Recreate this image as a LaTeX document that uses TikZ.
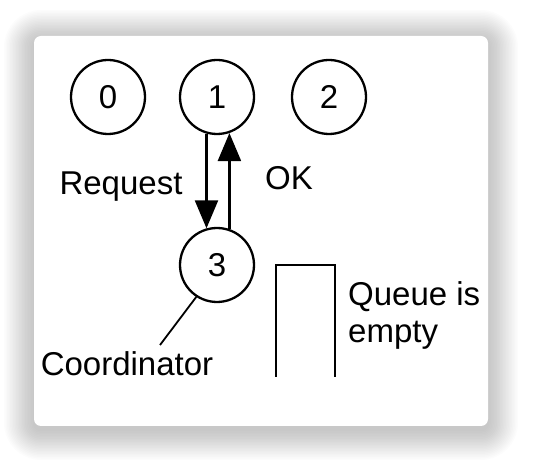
\documentclass[tikz,border=0pt]{standalone}
\usepackage{fontspec}
\setmainfont{Liberation Sans}
\usetikzlibrary{arrows.meta}
\tikzset{
  proc/.style={draw, circle, minimum size=74pt, inner sep=0pt, line width=2.3pt},
  msg/.style={-{Triangle[length=28pt,width=23pt]}, line width=2.3pt},
  lbl/.style={anchor=base, inner sep=0pt},
}
\begin{document}
\begin{tikzpicture}[x=1pt, y=-1pt, font=\fontsize{33}{37}\selectfont]
  \useasboundingbox (0,0) rectangle (552,462);

  % soft shadow, then the card
  \foreach \i in {1,...,20}
    \fill [black, opacity=0.011, rounded corners={7pt+\i*1.5pt}]
      (34-\i*1.5,36-\i*1.5+4) rectangle (488+\i*1.5,426+\i*1.5+4);
  \fill [white, rounded corners=7pt] (34,36) rectangle (488,426);

  % processes
  \node [proc] (p0) at (108,97) {0};
  \node [proc] (p1) at (217,97) {1};
  \node [proc] (p2) at (329,97) {2};
  \node [proc] (p3) at (217,265) {3};

  % messages
  \draw [msg] (p1.254) -- (p3.106);
  \draw [msg] (p3.71) -- (p1.289);
  \node [lbl] (req) at (121,195) {Request};
  \node [lbl] (ok) at (289,190) {OK};

  % coordinator label
  \node [lbl] (coord) at (127,376) {Coordinator};
  \coordinate (tail) at (160,345);
  \draw [line width=1.8pt] (p3.237) -- (tail);

  % queue
  \draw [line width=2.3pt] (276,377) -- (276,265) -- (335,265) -- (335,377);
  \node [lbl, anchor=base west] (q1) at (348,306) {Queue is};
  \node [lbl, anchor=base west] (q2) at (348,343) {empty};
\end{tikzpicture}
\end{document}
